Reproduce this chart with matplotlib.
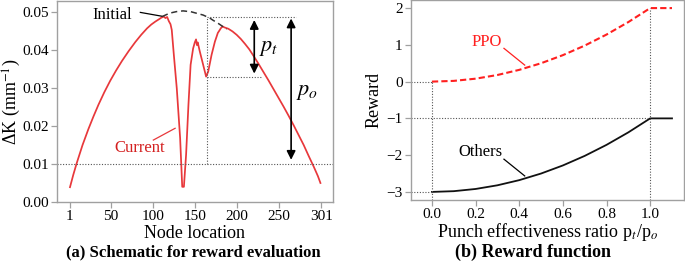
import matplotlib
matplotlib.use("Agg")
import matplotlib.pyplot as plt

plt.rcParams['font.family'] = ['Liberation Serif', 'DejaVu Serif']
plt.rcParams['mathtext.fontset'] = 'stix'

# ---------------- data: panel (a) ----------------
initial_nodes = [111, 116, 120, 124, 128, 132, 136, 140, 145, 150, 155, 160, 164, 168, 172,
                 176, 180, 184, 188]
initial_dk = [0.0488, 0.0493, 0.0497, 0.0499, 0.0501, 0.0502, 0.0503, 0.0502, 0.0501, 0.0498,
              0.0495, 0.0492, 0.0488, 0.0484, 0.0478, 0.0473, 0.0467, 0.0461, 0.0455]

current_nodes = [1, 5, 9, 16, 23, 29, 35, 42, 49, 56, 63, 71, 79, 86, 93, 98, 103, 108,
                 110, 113, 115, 117, 119, 121, 122.5, 125, 128.5, 132.5, 135, 137, 139.6,
                 142.4, 145, 148, 150, 151.5, 152.5, 153.5, 156, 160, 163.5, 166, 170, 174,
                 176, 177.5, 179, 181, 183, 186, 190, 195, 200, 205, 210, 215, 220, 226,
                 232, 238, 244, 250, 256, 262, 268, 274, 280, 286, 292, 297, 300]
current_dk = [0.0039, 0.0072, 0.0102, 0.0150, 0.0192, 0.0225, 0.0256, 0.0289, 0.0319, 0.0346,
              0.0371, 0.0397, 0.0421, 0.0440, 0.0457, 0.0467, 0.0475, 0.0482,
              0.0485, 0.0488, 0.0484, 0.0487, 0.0476, 0.0468, 0.0453, 0.0387, 0.0299, 0.0168,
              0.0040, 0.0040, 0.0124, 0.0255, 0.0361, 0.0404, 0.0420, 0.0428, 0.0413, 0.0420,
              0.0396, 0.0361, 0.0330, 0.0343, 0.0387, 0.0422, 0.0435, 0.0445, 0.0450, 0.0457,
              0.0462, 0.0459, 0.0456, 0.0449, 0.0440, 0.0429, 0.0416, 0.0402, 0.0385, 0.0364,
              0.0342, 0.0320, 0.0297, 0.0274, 0.0251, 0.0227, 0.0202, 0.0176, 0.0150, 0.0121,
              0.0093, 0.0068, 0.0050]

a_xticks = [1, 50, 100, 150, 200, 250, 301]
a_yticks = [0.00, 0.01, 0.02, 0.03, 0.04, 0.05]
threshold = 0.01
peak_node = 164
peak_top = 0.0488
valley = 0.0329
pt_arrow = (221, 0.0479, 0.0338)
po_arrow = (265, 0.0483, 0.0111)

# ---------------- data: panel (b) ----------------
ratio = [0.0, 0.1, 0.2, 0.3, 0.4, 0.5, 0.6, 0.7, 0.8, 0.9, 1.0, 1.1]
ppo_reward = [0.0, 0.02, 0.08, 0.18, 0.32, 0.5, 0.72, 0.98, 1.28, 1.62, 2.0, 2.0]
others_reward = [-3.0, -2.98, -2.92, -2.82, -2.68, -2.5, -2.28, -2.02, -1.72, -1.38, -1.0, -1.0]
b_xticks = [0.0, 0.2, 0.4, 0.6, 0.8, 1.0]
b_yticks = [-3, -2, -1, 0, 1, 2]

W, H = 685, 266
fig = plt.figure(figsize=(W / 100, H / 100), dpi=100)

spine_c = '#a0a0a0'
red_line = '#e8383b'
dot_c = '#555555'
dots = (0, (1, 1.5))

def style(ax):
    for s in ax.spines.values():
        s.set_color(spine_c)
        s.set_linewidth(1.0)
    ax.tick_params(direction='out', length=4, width=0.9, color=spine_c,
                   labelsize=11, labelcolor='black', pad=2)

# ---------- panel (a) ----------
ax1 = fig.add_axes([57 / W, (H - 202) / H, 276 / W, 201 / H])
style(ax1)
ax1.plot(current_nodes, current_dk, color=red_line, lw=1.25)
ax1.plot(initial_nodes, initial_dk, color='#333333', lw=1.1, ls=(0, (4, 2.5)))
ax1.axhline(threshold, color=dot_c, lw=0.8, ls=dots)
ax1.plot([peak_node, peak_node], [threshold, peak_top], color=dot_c, lw=0.8, ls=dots)
ax1.plot([peak_node, 271], [peak_top, peak_top], color=dot_c, lw=0.8, ls=dots)
ax1.plot([peak_node, 230], [valley, valley], color=dot_c, lw=0.8, ls=dots)
for xa, y0, y1 in (pt_arrow, po_arrow):
    ax1.annotate('', xy=(xa, y1), xytext=(xa, y0),
                 arrowprops=dict(arrowstyle='<|-|>', color='black', lw=1.2,
                                 mutation_scale=13, shrinkA=0, shrinkB=0))
ax1.text(238, 0.0405, '$p_t$', fontsize=16, ha='center', va='center')
ax1.text(284, 0.0287, '$p_o$', fontsize=16, ha='center', va='center')
ax1.text(52, 0.0492, 'Initial', fontsize=12, ha='center', va='center')
ax1.plot([85, 110.5], [0.0499, 0.0489], color='black', lw=0.9)
ax1.text(84, 0.0142, 'Current', fontsize=12, ha='center', va='center', color='#d42020')
ax1.plot([100.5, 126.5], [0.0163, 0.0194], color=red_line, lw=0.9)
ax1.set_xlim(-14.5, 315)
ax1.set_ylim(0, 0.0529)
ax1.set_xticks(a_xticks)
ax1.set_yticks(a_yticks)
ax1.set_yticklabels(['%.2f' % v for v in a_yticks])
ax1.set_xlabel('Node location', fontsize=13, labelpad=1)
ax1.set_ylabel('ΔK (mm$^{-1}$)', fontsize=13, va='center')
ax1.yaxis.set_label_coords(-45 / 276, 0.5)

# ---------- panel (b) ----------
ax2 = fig.add_axes([411 / W, (H - 200) / H, 273 / W, 200 / H])
style(ax2)
ax2.plot(ratio, ppo_reward, color='#ff2020', lw=1.5, ls=(0, (3, 1.5)))
ax2.plot(ratio, others_reward, color='#111111', lw=1.3)
ax2.set_xlim(-0.096, 1.155)
ax2.set_ylim(-3.22, 2.22)
ax2.plot([0, 0], [-3.22, 0], color=dot_c, lw=0.8, ls=dots)
ax2.plot([1, 1], [-3.22, 2], color=dot_c, lw=0.8, ls=dots)
ax2.plot([-0.096, 0], [0, 0], color=dot_c, lw=0.8, ls=dots)
ax2.plot([-0.096, 0], [-3, -3], color=dot_c, lw=0.8, ls=dots)
ax2.plot([-0.096, 1], [-1, -1], color=dot_c, lw=0.8, ls=dots)
ax2.text(0.251, 1.076, 'PPO', fontsize=12, ha='center', va='center', color='#ff2020')
ax2.plot([0.33, 0.425], [0.905, 0.45], color='#ff2020', lw=0.9)
ax2.text(0.224, -1.905, 'Others', fontsize=12, ha='center', va='center', color='black')
ax2.plot([0.33, 0.425], [-2.11, -2.565], color='black', lw=0.9)
ax2.set_xticks(b_xticks)
ax2.set_yticks(b_yticks)
ax2.set_xticklabels(['%.1f' % v for v in b_xticks])
ax2.set_yticklabels(['−%d' % -v if v < 0 else '%d' % v for v in b_yticks])
ax2.set_xlabel('Punch effectiveness ratio p$_t$/p$_o$', fontsize=13, labelpad=0)
ax2.set_ylabel('Reward', fontsize=13, labelpad=3)

fig.text(193 / W, 1 - 252 / H, '(a) Schematic for reward evaluation', fontsize=12,
         fontweight='bold', ha='center', va='center')
fig.text(533 / W, 1 - 252 / H, '(b) Reward function', fontsize=13,
         fontweight='bold', ha='center', va='center')

fig.savefig('out.png', dpi=100)
